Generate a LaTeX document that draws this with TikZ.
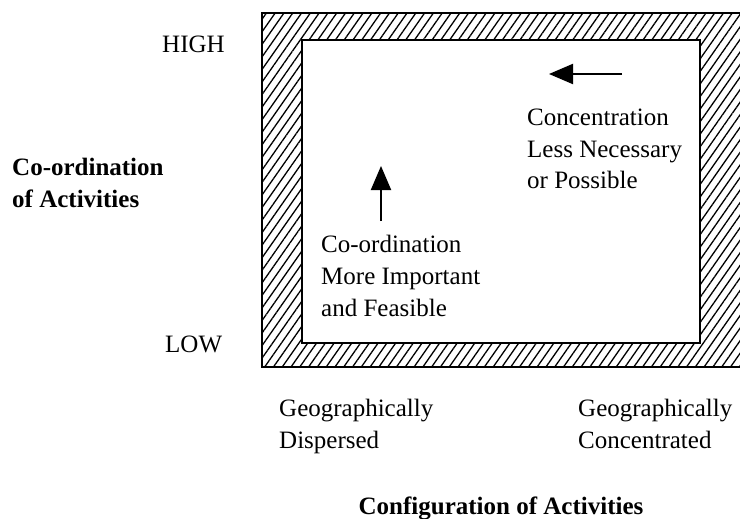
\documentclass[tikz,border=0pt]{standalone}
\usepackage{fontspec}
\setmainfont{Liberation Serif}
\usetikzlibrary{patterns.meta,arrows.meta}
\begin{document}
\begin{tikzpicture}[x=1pt,y=-1pt,
  % multi-line labels are placed by the baseline of their last line
  lbl/.style={anchor=base west,inner sep=0pt,font=\fontsize{25}{32}\selectfont,align=left},
  axis/.style={lbl,font=\fontsize{25}{32}\selectfont\bfseries},
  hatch/.style={pattern={Lines[angle=55,distance=7.2pt,line width=1.3pt]}},
  frame/.style={line width=2pt},
  move/.style={line width=2pt,-{Triangle[length=24pt,width=20pt]}}]
\useasboundingbox (0,0) rectangle (740,519);
% hatched band between the outer and the inner frame
\fill[hatch,even odd rule] (262,13) rectangle (750,367) (302,40) rectangle (700,343);
\draw[frame] (750,13) -- (262,13) -- (262,367) -- (750,367);
\draw[frame,fill=white] (302,40) rectangle (700,343);
% axis labels
\node[lbl] (high) at (162,53) {HIGH};
\node[lbl] (low) at (165,352) {LOW};
\node[axis] (coord) at (12,207) {Co-ordination\\of Activities};
\node[lbl] (disp) at (279,448) {Geographically\\Dispersed};
\node[lbl] (conc) at (578,448) {Geographically\\Concentrated};
\node[axis,anchor=base] (config) at (501,514) {Configuration of Activities};
% statements inside the frame
\node[lbl] (lessnec) at (527,189) {Concentration\\Less Necessary\\or Possible};
\node[lbl] (moreimp) at (321,316) {Co-ordination\\More Important\\and Feasible};
\coordinate (upfrom) at (381,221);
\coordinate (upto) at (381,166);
\coordinate (leftfrom) at (622,74);
\coordinate (leftto) at (549,74);
\draw[move] (upfrom) -- (upto);
\draw[move] (leftfrom) -- (leftto);
\end{tikzpicture}
\end{document}
